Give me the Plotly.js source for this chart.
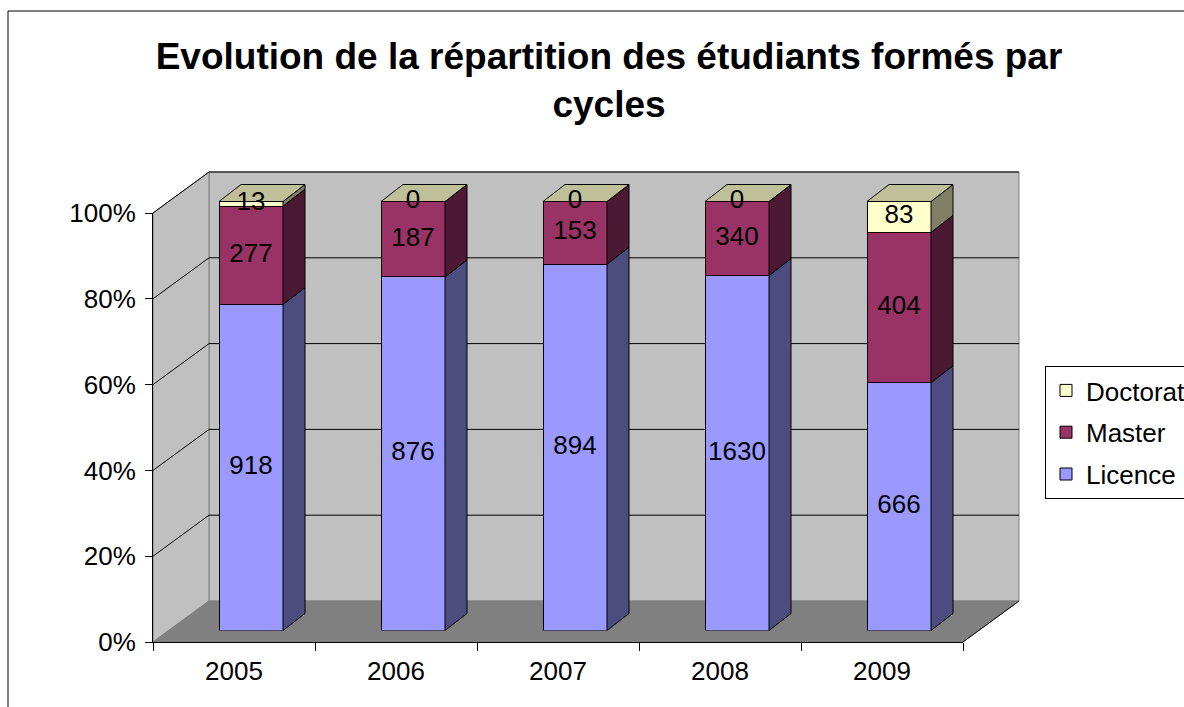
<!DOCTYPE html>
<html>
<head>
<meta charset="utf-8">
<script src="https://cdn.plot.ly/plotly-3.0.1.min.js"></script>
<style>html,body{margin:0;padding:0;background:#fff;}#chart{width:1184px;height:707px;}</style>
</head>
<body>
<div id="chart"></div>
<script>
// ---- data ----
const years = ['2005', '2006', '2007', '2008', '2009'];
const licence = [918, 876, 894, 1630, 666];
const master = [277, 187, 153, 340, 404];
const doctorat = [13, 0, 0, 0, 83];
const seriesNames = ['Licence', 'Master', 'Doctorat'];
const yTicks = [0, 20, 40, 60, 80, 100];
const yTickLabels = ['0%', '20%', '40%', '60%', '80%', '100%'];
const titleText = 'Evolution de la répartition des étudiants formés par<br>cycles';

// ---- styles / geometry (pixels) ----
const W = 1184, H = 707;
const FONT = 'Liberation Sans, Arial, sans-serif';
const frontColors = ['#9999FF', '#993366', '#FFFFCC'];
const sideColors = ['#4C4C7F', '#4C1933', '#7F7F66'];
const topColor = '#BFBF99';
const FRONT = {x0: 153, x1: 963, y0: 642, y100: 213};
const DEPTH = {dx: 56, dy: -41};
const BAR_OFF = {dx: 17, dy: -11.5};
const BAR_DEPTH = {dx: 22, dy: -17};
const BAR_W = 0.395;
const YMAX_BAR = 110;

const px = x => x / W;
const py = y => 1 - y / H;
const pxPerCat = (FRONT.x1 - FRONT.x0) / years.length;
const pxPerPct = (FRONT.y0 - FRONT.y100) / 100;
const yPix = v => FRONT.y0 - v * pxPerPct;

const series = [licence, master, doctorat];
const totals = years.map((_, i) => series.reduce((s, a) => s + a[i], 0));
const pct = series.map(a => a.map((v, i) => v / totals[i] * 100));

const traces = [];
// invisible trace carrying the front category axis
traces.push({x: years, y: years.map(() => 0), type: 'scatter', mode: 'none', xaxis: 'x', yaxis: 'y', showlegend: false, hoverinfo: 'skip'});

// bars (front faces)
const ranks = [3, 2, 1];
series.forEach((vals, s) => {
  traces.push({
    type: 'bar', name: seriesNames[s], legendgroup: seriesNames[s], legendrank: ranks[s],
    x: years.map((_, i) => i), y: vals, width: BAR_W,
    xaxis: 'x2', yaxis: 'y2',
    marker: {color: frontColors[s], line: {color: '#000', width: 1}},
    hoverinfo: 'skip'
  });
});

const ddx = BAR_DEPTH.dx / pxPerCat;
const ddy = -BAR_DEPTH.dy / pxPerPct;

// side faces
series.forEach((vals, s) => {
  const xs = [], ys = [];
  years.forEach((_, i) => {
    let b = 0; for (let k = 0; k < s; k++) b += pct[k][i];
    const t = b + pct[s][i];
    const xr = i + BAR_W / 2;
    xs.push(xr, xr + ddx, xr + ddx, xr, xr, null);
    ys.push(b, b + ddy, t + ddy, t, b, null);
  });
  traces.push({type: 'scatter', mode: 'lines', x: xs, y: ys, fill: 'toself', fillcolor: sideColors[s],
    line: {color: '#000', width: 1}, xaxis: 'x2', yaxis: 'y2', showlegend: false, hoverinfo: 'skip'});
});
// top faces
{
  const xs = [], ys = [];
  years.forEach((_, i) => {
    const xl = i - BAR_W / 2, xr = i + BAR_W / 2;
    xs.push(xl, xl + ddx, xr + ddx, xr, xl, null);
    ys.push(100, 100 + ddy, 100 + ddy, 100, 100, null);
  });
  traces.push({type: 'scatter', mode: 'lines', x: xs, y: ys, fill: 'toself', fillcolor: topColor,
    line: {color: '#000', width: 1}, xaxis: 'x2', yaxis: 'y2', showlegend: false, hoverinfo: 'skip'});
}
// data labels
{
  const xs = [], ys = [], tx = [];
  series.forEach((vals, s) => {
    years.forEach((_, i) => {
      let b = 0; for (let k = 0; k < s; k++) b += pct[k][i];
      xs.push(i); ys.push(b + pct[s][i] / 2); tx.push(String(vals[i]));
    });
  });
  traces.push({type: 'scatter', mode: 'text', x: xs, y: ys, text: tx, textposition: 'middle center',
    textfont: {family: FONT, size: 26, color: '#000'}, cliponaxis: false,
    xaxis: 'x2', yaxis: 'y2', showlegend: false, hoverinfo: 'skip'});
}

// ---- walls, floor, gridlines (decoration shapes) ----
const shapes = [];
const poly = pts => 'M' + pts.map(p => px(p[0]) + ',' + py(p[1])).join('L') + 'Z';
const bx0 = FRONT.x0 + DEPTH.dx, bx1 = FRONT.x1 + DEPTH.dx;
const by = v => yPix(v) + DEPTH.dy;
// outer frame
shapes.push({type: 'rect', xref: 'paper', yref: 'paper', x0: px(8), x1: px(1200), y0: py(11), y1: py(730), line: {color: '#000', width: 1}, layer: 'below'});
// back wall
shapes.push({type: 'path', xref: 'paper', yref: 'paper', layer: 'below', path: poly([[bx0, by(100)], [bx1, by(100)], [bx1, by(0)], [bx0, by(0)]]), fillcolor: '#C0C0C0', line: {color: '#808080', width: 1}});
// left wall
shapes.push({type: 'path', xref: 'paper', yref: 'paper', layer: 'below', path: poly([[FRONT.x0, yPix(100)], [bx0, by(100)], [bx0, by(0)], [FRONT.x0, yPix(0)]]), fillcolor: '#C0C0C0', line: {color: '#808080', width: 1}});
// gridlines
yTicks.forEach(v => {
  if (v === 0) return;
  shapes.push({type: 'line', xref: 'paper', yref: 'paper', layer: 'below', x0: px(bx0), x1: px(bx1), y0: py(by(v)), y1: py(by(v)), line: {color: '#000', width: 1}});
  shapes.push({type: 'line', xref: 'paper', yref: 'paper', layer: 'below', x0: px(FRONT.x0), x1: px(bx0), y0: py(yPix(v)), y1: py(by(v)), line: {color: '#000', width: 1}});
});
// floor
shapes.push({type: 'path', xref: 'paper', yref: 'paper', layer: 'below', path: poly([[FRONT.x0, yPix(0)], [bx0, by(0)], [bx1, by(0)], [FRONT.x1, yPix(0)]]), fillcolor: '#808080', line: {color: '#808080', width: 1}});
shapes.push({type: 'line', xref: 'paper', yref: 'paper', layer: 'below', x0: px(FRONT.x1), x1: px(bx1), y0: py(yPix(0)), y1: py(by(0)), line: {color: '#000', width: 1}});

const barTop = FRONT.y0 + BAR_OFF.dy - YMAX_BAR * pxPerPct;

const layout = {
  width: W, height: H,
  margin: {l: 0, r: 0, t: 0, b: 0, autoexpand: false},
  paper_bgcolor: '#fff', plot_bgcolor: 'rgba(0,0,0,0)',
  font: {family: FONT, color: '#000', size: 26},
  title: {text: titleText, font: {family: FONT, size: 37, color: '#000', weight: 'bold'},
    x: px(609), xanchor: 'center', xref: 'paper', y: py(69), yanchor: 'top', yref: 'paper'},
  barmode: 'stack', barnorm: 'percent',
  showlegend: true,
  legend: {x: px(1045), y: py(366), xanchor: 'left', yanchor: 'top', bgcolor: '#fff', bordercolor: '#000', borderwidth: 1,
    font: {family: FONT, size: 26, color: '#000'}, traceorder: 'grouped', tracegroupgap: 5},
  xaxis: {type: 'category', categoryarray: years, categoryorder: 'array', range: [-0.5, years.length - 0.5], autorange: false,
    domain: [px(FRONT.x0), px(FRONT.x1)], anchor: 'y',
    tickson: 'boundaries', ticks: 'outside', ticklen: 8, tickcolor: '#000', showline: true, linecolor: '#000', linewidth: 1,
    showgrid: false, zeroline: false, tickfont: {family: FONT, size: 26, color: '#000'}, ticklabelstandoff: 6, fixedrange: true},
  yaxis: {type: 'linear', domain: [py(FRONT.y0), py(FRONT.y100)], range: [0, 100], autorange: false,
    tickmode: 'array', tickvals: yTicks, ticktext: yTickLabels, anchor: 'x',
    ticks: 'outside', ticklen: 7, tickcolor: '#000', showline: true, linecolor: '#000', linewidth: 1,
    showgrid: false, zeroline: false, tickfont: {family: FONT, size: 26, color: '#000'}, ticklabelstandoff: 4, fixedrange: true},
  xaxis2: {type: 'linear', domain: [px(FRONT.x0 + BAR_OFF.dx), px(FRONT.x1 + BAR_OFF.dx)], range: [-0.5, years.length - 0.5], autorange: false, anchor: 'y2', visible: false, fixedrange: true},
  yaxis2: {type: 'linear', domain: [py(FRONT.y0 + BAR_OFF.dy), py(barTop)], range: [0, YMAX_BAR], autorange: false, anchor: 'x2', visible: false, fixedrange: true},
  shapes: shapes
};

Plotly.newPlot('chart', traces, layout, {displayModeBar: false, staticPlot: true});
</script>
</body>
</html>
